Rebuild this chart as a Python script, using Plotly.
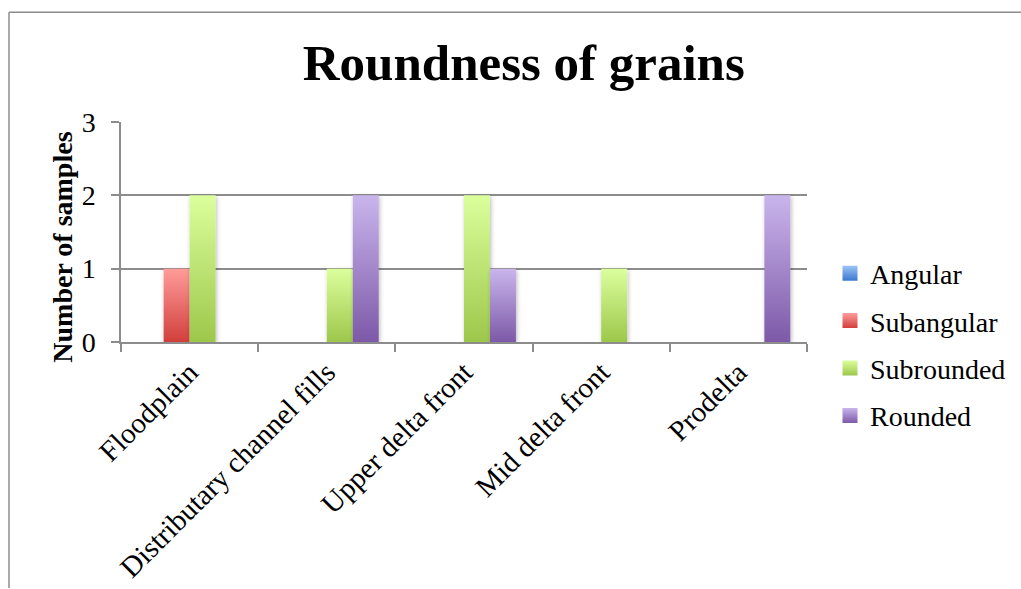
import json
import plotly.graph_objects as go

# Sample counts per depositional environment and grain roundness class
environments = ["Floodplain", "Distributary channel fills", "Upper delta front",
                "Mid delta front", "Prodelta"]
angular = [0, 0, 0, 0, 0]
subangular = [1, 0, 0, 0, 0]
subrounded = [2, 1, 2, 1, 0]
rounded = [0, 2, 1, 0, 2]

series_names = ["Angular", "Subangular", "Subrounded", "Rounded"]
series_values = [angular, subangular, subrounded, rounded]
# (top, bottom) shades for the vertical bar gradients
series_shades = [("#9DC3F7", "#3C78CE"), ("#FF9C9A", "#D13F3C"),
                 ("#DBFF9C", "#9DC74B"), ("#C9B5EC", "#7D59A8")]

W, H = 1021, 589
L, R, T, B = 121, 214, 122, 246.5
pw, ph = W - L - R, H - T - B

FONT = "Liberation Serif, Times New Roman, serif"
GRID = "#8C8C8C"

fig = go.Figure()
for i, (name, vals, shade) in enumerate(zip(series_names, series_values, series_shades)):
    fig.add_trace(go.Bar(
        x=environments, y=vals, name=name, legendgroup=name,
        marker=dict(color=shade[1], line=dict(width=0)),
    ))

fig.update_layout(
    width=W, height=H,
    margin=dict(l=L, r=R, t=T, b=B, autoexpand=False),
    paper_bgcolor="white", plot_bgcolor="white",
    barmode="group", bargap=0.243, bargroupgap=0,
    font=dict(family=FONT, size=28, color="black"),
    title=dict(text="<b>Roundness of grains</b>", x=0.513, xanchor="center",
               y=1 - 62 / H, yanchor="middle",
               font=dict(family=FONT, size=51, color="black")),
    legend=dict(x=(830 - L) / pw, xanchor="left",
                y=1 - (345 - T) / ph, yanchor="middle",
                font=dict(family=FONT, size=28, color="black"),
                tracegroupgap=8, bgcolor="rgba(0,0,0,0)"),
    showlegend=True,
)

fig.update_xaxes(
    type="category", tickson="boundaries", ticks="outside", ticklen=8,
    tickcolor=GRID, tickwidth=1.5, tickangle=-45, automargin=False,
    showline=True, linecolor=GRID, linewidth=1.5, showgrid=False,
    tickfont=dict(family=FONT, size=29, color="black"),
)
fig.update_yaxes(
    range=[0, 3], dtick=1, ticks="outside", ticklen=8, tickcolor=GRID, tickwidth=1.5,
    showline=True, linecolor=GRID, linewidth=1.5, automargin=False,
    showgrid=True, gridcolor=GRID, gridwidth=1.5, zeroline=False,
    tickfont=dict(family=FONT, size=28, color="black"), ticklabelstandoff=10,
)

# y-axis title, set slightly below the plot's vertical centre
fig.add_annotation(
    text="<b>Number of samples</b>", textangle=-90, showarrow=False,
    xref="paper", yref="paper", x=(63 - L) / pw, y=(T + ph - 248) / ph,
    xanchor="center", yanchor="middle",
    font=dict(family=FONT, size=28, color="black"),
)

# chart frame: top edge and left edge
x_left = (9 - L) / pw
y_top = 1 + (T - 12) / ph
y_bot = -(B) / ph
fig.add_shape(type="line", xref="paper", yref="paper", x0=x_left, x1=(W - L) / pw,
              y0=y_top, y1=y_top, line=dict(color=GRID, width=1.5))
fig.add_shape(type="line", xref="paper", yref="paper", x0=x_left, x1=x_left,
              y0=y_top, y1=y_bot, line=dict(color=GRID, width=1.5))

# vertical gradient fill and soft shadow on bars and legend swatches
post = """
var gd = document.getElementById('{plot_id}');
var svg = gd.querySelector('svg.main-svg');
var NS = 'http://www.w3.org/2000/svg';
var defs = svg.querySelector('defs');
var shades = %s;
shades.forEach(function(s, i){
  var g = document.createElementNS(NS, 'linearGradient');
  g.setAttribute('id', 'shade' + i);
  g.setAttribute('x1', '0'); g.setAttribute('y1', '0');
  g.setAttribute('x2', '0'); g.setAttribute('y2', '1');
  [[0, s[0]], [1, s[1]]].forEach(function(p){
    var st = document.createElementNS(NS, 'stop');
    st.setAttribute('offset', p[0]);
    st.setAttribute('stop-color', p[1]);
    g.appendChild(st);
  });
  defs.appendChild(g);
});
var f = document.createElementNS(NS, 'filter');
f.setAttribute('id', 'barshadow');
f.setAttribute('x', '-30%%'); f.setAttribute('y', '-10%%');
f.setAttribute('width', '160%%'); f.setAttribute('height', '130%%');
var ds = document.createElementNS(NS, 'feDropShadow');
ds.setAttribute('dx', '1'); ds.setAttribute('dy', '1.5');
ds.setAttribute('stdDeviation', '2');
ds.setAttribute('flood-color', '#000');
ds.setAttribute('flood-opacity', '0.28');
f.appendChild(ds);
defs.appendChild(f);
gd.querySelectorAll('.barlayer .trace').forEach(function(tr, i){
  tr.querySelectorAll('path').forEach(function(p){
    p.style.fill = 'url(#shade' + i + ')';
    p.style.filter = 'url(#barshadow)';
  });
});
gd.querySelectorAll('.legend .traces').forEach(function(tr, i){
  tr.querySelectorAll('.legendpoints path').forEach(function(p){
    p.style.fill = 'url(#shade' + i + ')';
    p.setAttribute('d', 'M7.5,7.5H-7.5V-7.5H7.5Z');
  });
});
""" % json.dumps(series_shades)

fig.write_html("out.html", post_script=post)
